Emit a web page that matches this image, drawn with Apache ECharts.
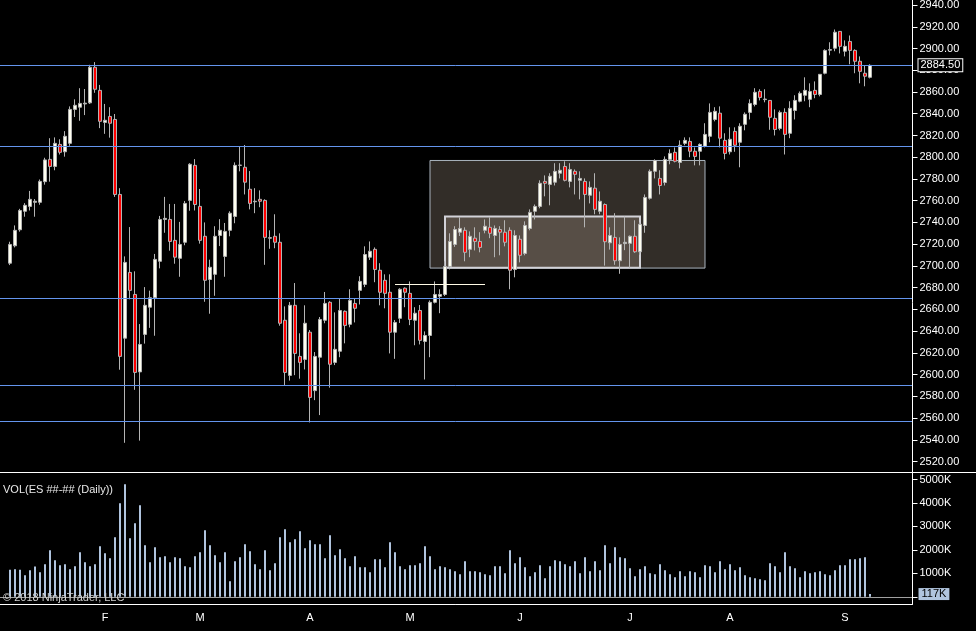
<!DOCTYPE html>
<html>
<head>
<meta charset="utf-8">
<script src="https://cdn.jsdelivr.net/npm/echarts@6/dist/echarts.min.js"></script>
<style>
html, body { margin: 0; background: #000; }
#chart { width: 976px; height: 631px; }
</style>
</head>
<body>
<div id="chart"></div>
<script>
// daily ES bars
const open = [
  2702.5, 2718.5, 2733.25, 2750.25, 2754.75, 2758.5, 2758.5, 2777.5, 2798, 2791.5,
  2811.75, 2805, 2812.75, 2844, 2846, 2849, 2850, 2882.75, 2861.5, 2832,
  2837.5, 2834.75, 2765.75, 2633.5, 2694, 2673.75, 2602.5, 2637, 2662, 2670.75,
  2704.25, 2742.75, 2742.75, 2723.5, 2707, 2721.75, 2760.25, 2792.5, 2754.75, 2727.25,
  2687.5, 2692.25, 2728, 2708.75, 2732.75, 2745.5, 2792.5, 2790.75, 2770.5, 2759,
  2761.25, 2760.25, 2725.5, 2727.25, 2721.75, 2650, 2599.25, 2663.75, 2616.75, 2614,
  2639, 2585.25, 2616, 2650, 2666.5, 2611.25, 2621.5, 2658.25, 2646.25, 2665.5,
  2677.5, 2683, 2708, 2715.25, 2696, 2686.75, 2675.75, 2639, 2651.75, 2679.5,
  2674.75, 2650, 2659, 2630.5, 2636, 2666.5, 2672, 2673.75, 2699.5, 2719.75,
  2731, 2732.75, 2715.25, 2725.5, 2722.5, 2732.75, 2735.5, 2728, 2733.5, 2731,
  2732.75, 2696.75, 2724.5, 2711.5, 2734.5, 2750.25, 2754.75, 2777.75, 2775, 2777,
  2785.25, 2791.5, 2777.75, 2787, 2778.75, 2777.75, 2765, 2771.5, 2750.25, 2756.5,
  2721.25, 2726.25, 2704.75, 2720.5, 2720.75, 2727.25, 2713, 2737.25, 2762.25, 2787,
  2780.5, 2776.75, 2798, 2804.5, 2795.25, 2812.75, 2814.5, 2805.5, 2805.5, 2810,
  2819.25, 2834.75, 2840.5, 2815.5, 2805, 2823.75, 2813.75, 2830.25, 2841.25, 2848.5,
  2860.5, 2853, 2852.25, 2835.75, 2826.5, 2841.25, 2822, 2843, 2851.5, 2857,
  2853.25, 2861.5, 2857.75, 2877.25, 2898.5, 2900.25, 2915.75, 2897.5, 2906.5, 2898.25,
  2888.25, 2877.25, 2873.5
];
const high = [
  2722.25, 2737.25, 2752.5, 2757.75, 2769, 2761.5, 2779.5, 2799.5, 2817.5, 2818.25,
  2816.5, 2824, 2846.75, 2853.25, 2863.5, 2862.75, 2885, 2887.5, 2866.5, 2849,
  2846, 2839.75, 2771.5, 2708.75, 2735.75, 2695, 2646.5, 2680.5, 2677.25, 2711,
  2746, 2763.5, 2757, 2757, 2740.5, 2759.75, 2794.5, 2798.25, 2770.75, 2740,
  2705.75, 2736.5, 2743, 2739.5, 2750.25, 2795.25, 2810, 2811.25, 2787.25, 2771.5,
  2769.5, 2761.25, 2732.75, 2747.5, 2730, 2662.75, 2666.75, 2684.25, 2638, 2663.75,
  2641, 2620.75, 2653, 2676, 2667.5, 2657.25, 2670.25, 2659, 2678.5, 2670.25,
  2690.5, 2718, 2722.5, 2717, 2702.5, 2692.25, 2692.25, 2650.25, 2679.5, 2680.25,
  2685.75, 2662, 2664, 2639.75, 2668.25, 2685.75, 2678.5, 2704.25, 2730, 2736.5,
  2744.75, 2735.5, 2731.75, 2735.5, 2731, 2742.75, 2744.75, 2737.25, 2736.5, 2742,
  2735.5, 2732.75, 2728, 2741, 2752, 2756.5, 2778.75, 2783.25, 2785.25, 2794.5,
  2794.5, 2796.25, 2794.5, 2788.75, 2787, 2780.5, 2777.75, 2785.25, 2768.5, 2757.5,
  2735.5, 2748.5, 2726.25, 2745.5, 2728, 2742, 2740, 2765.75, 2788.75, 2798,
  2788, 2800.75, 2807.25, 2809, 2815.5, 2818.25, 2818.25, 2809, 2812.75, 2831.25,
  2849.5, 2846, 2846.75, 2822, 2827.5, 2827.5, 2831.25, 2841.25, 2853.25, 2863.5,
  2862.5, 2862.5, 2852.5, 2844, 2843, 2845, 2851.5, 2857, 2860.5, 2873.5,
  2868, 2869.75, 2876.5, 2899.25, 2905.75, 2917.5, 2916, 2907.5, 2912, 2899.25,
  2892.75, 2884.5, 2885.5
];
const low = [
  2700.75, 2717, 2731.5, 2745.25, 2751, 2745.25, 2756.25, 2774.75, 2777.5, 2788,
  2802.5, 2800.5, 2810.5, 2837, 2833.5, 2838.75, 2849, 2859.25, 2826.75, 2821.5,
  2818, 2763.5, 2604.5, 2537.25, 2669.25, 2586, 2539.25, 2628.5, 2643, 2635.75,
  2697.75, 2730.5, 2714, 2702, 2690, 2719, 2750.75, 2751, 2720.5, 2667,
  2656, 2672.5, 2718.25, 2690, 2727.25, 2739.25, 2787, 2765.75, 2752, 2748.5,
  2754, 2701, 2715.75, 2716.25, 2645, 2590, 2594.5, 2599.5, 2596.25, 2604.75,
  2556, 2576.5, 2562.75, 2647.25, 2588, 2608.75, 2616, 2628.75, 2643.5, 2648,
  2664.5, 2680.5, 2705.5, 2685, 2663.75, 2661, 2619.5, 2614.5, 2647.5, 2662,
  2645.5, 2627, 2627.75, 2595.5, 2616, 2665.5, 2656.5, 2672.25, 2696.75, 2717.5,
  2727.5, 2704.25, 2708, 2714.25, 2712.5, 2730, 2725.5, 2708, 2709.75, 2718,
  2678.5, 2689.5, 2703.25, 2709.75, 2732.75, 2742.75, 2753, 2764, 2755.75, 2774,
  2780.5, 2777.75, 2772.25, 2765.75, 2761.25, 2735.5, 2757.5, 2747.5, 2747.5, 2700.25,
  2715, 2701, 2692.75, 2714.5, 2698.25, 2712, 2710.25, 2730.5, 2761, 2780.5,
  2765.75, 2774, 2793.5, 2795.25, 2789.75, 2811, 2800, 2792.5, 2792.5, 2809,
  2813.75, 2833, 2809, 2798, 2802.5, 2805, 2790.75, 2824.75, 2834.75, 2846.75,
  2852.25, 2850.5, 2825.25, 2820, 2824.75, 2802.5, 2817.5, 2834.75, 2850.5, 2851.5,
  2846, 2854.25, 2856, 2876.25, 2893.75, 2897.5, 2895.5, 2892.75, 2885.5, 2877.25,
  2868, 2865.25, 2872.5
];
const close = [
  2719.75, 2732.75, 2751, 2755.75, 2761.25, 2759.5, 2777.75, 2797.5, 2791.5, 2812.75,
  2804.5, 2819.25, 2844, 2847.75, 2849.5, 2849.75, 2882.75, 2862.5, 2833, 2834,
  2831.25, 2765.75, 2616.75, 2703.25, 2677.5, 2602, 2627.75, 2663.75, 2670.75, 2706,
  2742.75, 2743.75, 2722.5, 2708, 2719.75, 2757.5, 2793.5, 2756.5, 2723.5, 2686.75,
  2698.75, 2727.25, 2732.75, 2731.75, 2748.5, 2792.5, 2792.75, 2777, 2757.5, 2759.5,
  2759.5, 2726.25, 2726, 2721.75, 2647.25, 2602, 2663.75, 2619.5, 2611.25, 2647.25,
  2579, 2616.75, 2650.75, 2665.5, 2609.5, 2623.25, 2659, 2645.25, 2668.25, 2661,
  2685.75, 2710.5, 2713.5, 2696.75, 2675.75, 2674.75, 2639, 2648, 2678.5, 2675.75,
  2650.75, 2656.5, 2631.5, 2636, 2666.5, 2673.75, 2673.75, 2699.5, 2722.5, 2733.5,
  2734.5, 2712.5, 2727.25, 2722.5, 2717, 2736.5, 2730, 2734.5, 2731, 2721.75,
  2696, 2728, 2709.75, 2737.25, 2749.25, 2754.75, 2776, 2776, 2782.5, 2787,
  2788, 2778.75, 2788.75, 2784.25, 2780.5, 2765.75, 2772.25, 2752, 2759.5, 2722.25,
  2728, 2704.75, 2719.75, 2721.75, 2727.25, 2713, 2738.25, 2763, 2787, 2797,
  2774, 2798, 2803.5, 2796.25, 2811, 2815.5, 2805.5, 2800.75, 2811.75, 2821,
  2841.25, 2842.25, 2817.5, 2803.5, 2816.5, 2811, 2828.5, 2839.5, 2849.5, 2859.75,
  2855, 2853.5, 2836.75, 2825.5, 2841.25, 2821, 2845, 2852.25, 2858.75, 2861.5,
  2860.5, 2857.75, 2876.25, 2898.25, 2899, 2915, 2902, 2902, 2898.25, 2888.25,
  2879, 2874.5, 2884.5
];
// volume in thousands of contracts
const volume = [
  1150, 1179, 1150, 923, 1136, 1292, 1051, 1392, 1988, 1562,
  1349, 1392, 1179, 1306, 1903, 1477, 1306, 1392, 2158, 1860,
  1647, 2542, 3990, 4800, 2499, 3138, 3905, 2201, 1477, 2116,
  1690, 1732, 1477, 1690, 1647, 1306, 1264, 1732, 1903, 2840,
  2201, 1775, 1477, 1903, 667, 1519, 1690, 2244, 1945, 1392,
  1179, 1988, 1136, 1434, 2542, 2883, 2329, 2457, 2797, 2073,
  2414, 2244, 2244, 1647, 2627, 1775, 2031, 1647, 1306, 1732,
  1264, 1264, 1051, 1605, 1605, 1264, 2329, 1903, 1306, 1179,
  1349, 1349, 1434, 2158, 1732, 1179, 1306, 1264, 1179, 1093,
  966, 1519, 1093, 1093, 1051, 966, 923, 1306, 1306, 1008,
  1988, 1434, 1690, 1264, 880, 1051, 1349, 795, 1306, 1562,
  1519, 1392, 1306, 1519, 1008, 1690, 1093, 1519, 1136, 2201,
  1434, 2116, 1690, 1647, 1221, 880, 1179, 1306, 1008, 966,
  1392, 1136, 966, 838, 1093, 880, 1093, 1051, 838, 1349,
  1306, 1051, 1519, 1179, 1392, 1136, 1264, 923, 838, 795,
  753, 710, 1434, 1306, 1051, 1903, 1306, 1221, 838, 1093,
  1008, 1051, 1093, 966, 923, 1136, 1349, 1349, 1605, 1605,
  1647, 1690, 117
];

const monthStarts = [19, 38, 60, 80, 102, 124, 144, 167];
const monthLabels = ['F', 'M', 'A', 'M', 'J', 'J', 'A', 'S'];

const levels = [2810, 2670.25, 2590, 2557];
const lastPrice = 2884.5;
const lastVolume = 117;

// drawn rectangles: bar index range and price range
const boxFrom = [84, 87];
const boxTo = [139, 126];
const boxTop = [2797, 2745.5];
const boxBottom = [2698, 2698.25];
const rayFrom = 77, rayTo = 95, rayPrice = 2683;

const PAD_L = 2, PAD_R = 8, BAR = 5;
const FONT = 'Liberation Sans';
const barName = i => 'b' + i;

const cats = [];
for (let i = 0; i < PAD_L; i++) cats.push('l' + i);
close.forEach((_, i) => cats.push(barName(i)));
for (let i = 0; i < PAD_R; i++) cats.push('r' + i);

const monthAt = {};
monthStarts.forEach((b, j) => { monthAt[barName(b)] = monthLabels[j]; });
const isMonth = (idx, val) => val in monthAt;

const gridLeft = -2.5;
const gridWidth = cats.length * BAR;
const axisX = gridLeft + gridWidth;

const candles = close.map((c, i) => [barName(i), open[i], c, low[i], high[i]]);
const bars = volume.map((v, i) => [barName(i), v]);

const white = '#ffffff';
const axisLabel = { color: white, fontSize: 11, fontFamily: FONT };
const gridBase = { left: gridLeft, width: gridWidth, containLabel: false, outerBoundsMode: 'none' };

const chart = echarts.init(document.getElementById('chart'), null, { renderer: 'canvas' });
chart.setOption({
  backgroundColor: '#000',
  animation: false,
  grid: [
    { ...gridBase, top: -16.7, height: 478.26 },
    { ...gridBase, top: 472.5, height: 124.3 }
  ],
  xAxis: [
    { type: 'category', gridIndex: 0, data: cats, show: false },
    {
      type: 'category', gridIndex: 1, data: cats, offset: 7.5,
      axisLine: { onZero: false, lineStyle: { color: white } },
      axisTick: { alignWithLabel: true, length: 6, interval: isMonth, lineStyle: { color: white } },
      axisLabel: { ...axisLabel, margin: 8, interval: isMonth, formatter: v => monthAt[v] || '' }
    }
  ],
  yAxis: [
    {
      type: 'value', gridIndex: 0, position: 'right', min: 2520, max: 2960, interval: 20,
      axisLine: { show: false }, splitLine: { show: false },
      axisTick: { show: true, length: 5, lineStyle: { color: white } },
      axisLabel: { ...axisLabel, margin: 7, formatter: v => v.toFixed(2) }
    },
    {
      type: 'value', gridIndex: 1, position: 'right', min: 0, max: 5300, interval: 1000,
      axisLine: { show: false }, splitLine: { show: false },
      axisTick: { show: true, length: 5, lineStyle: { color: white } },
      axisLabel: { ...axisLabel, margin: 7, formatter: v => (v > 0 && v % 1000 === 0 ? v + 'K' : '') }
    }
  ],
  series: [
    {
      type: 'candlestick', xAxisIndex: 0, yAxisIndex: 0,
      data: candles, encode: { x: 0, y: [1, 2, 3, 4] },
      barWidth: 4,
      itemStyle: { color: '#fffff0', color0: '#ff0000', borderColor: '#b4b4b4', borderColor0: '#b4b4b4', borderWidth: 1 },
      markArea: {
        silent: true,
        itemStyle: { color: 'rgba(200,180,160,0.25)', borderColor: '#aab4be', borderWidth: 1 },
        data: boxFrom.map((f, j) => [
          { coord: [barName(f), boxTop[j]], itemStyle: j ? { borderColor: '#d2d2d8', borderWidth: 2 } : {} },
          { coord: [barName(boxTo[j]), boxBottom[j]] }
        ])
      },
      markLine: {
        silent: true, symbol: ['none', 'none'],
        lineStyle: { color: '#6495ed', width: 1, type: 'solid' },
        label: { show: false },
        data: [
          ...levels.map(v => ({ yAxis: v })),
          {
            yAxis: lastPrice,
            label: {
              show: true, position: 'end', distance: 6, formatter: lastPrice.toFixed(2),
              color: white, fontSize: 11, fontFamily: FONT,
              backgroundColor: '#000', borderColor: white, borderWidth: 1, padding: [1, 2, 0, 2]
            }
          },
          [
            { coord: [barName(rayFrom), rayPrice], lineStyle: { color: '#fffbe6', width: 1 } },
            { coord: [barName(rayTo), rayPrice] }
          ]
        ]
      }
    },
    {
      type: 'bar', xAxisIndex: 1, yAxisIndex: 1,
      data: bars, encode: { x: 0, y: 1 },
      barWidth: 2,
      itemStyle: { color: '#b0c4de' },
      markLine: {
        silent: true, symbol: ['none', 'none'],
        label: { show: false },
        data: [
          { yAxis: 0, lineStyle: { color: '#a0a0a0', width: 1, type: 'solid' } },
          {
            yAxis: lastVolume, lineStyle: { color: 'rgba(0,0,0,0)', width: 1 },
            label: {
              show: true, position: 'end', distance: 6, formatter: lastVolume + 'K',
              color: '#000', fontSize: 11, fontFamily: FONT,
              backgroundColor: '#b0c4de', padding: [1, 3, 0, 3]
            }
          }
        ]
      }
    }
  ],
  graphic: [
    { type: 'line', silent: true, z: 50, shape: { x1: axisX, y1: 0, x2: axisX, y2: 604.5 }, style: { stroke: white, lineWidth: 1 } },
    { type: 'line', silent: true, z: 50, shape: { x1: 0, y1: 472.5, x2: 976, y2: 472.5 }, style: { stroke: white, lineWidth: 1 } },
    { type: 'text', silent: true, z: 50, left: 3, top: 484, style: { text: 'VOL(ES ##-## (Daily))', fill: '#e8e8e8', font: `11px "${FONT}"` } },
    { type: 'text', silent: true, z: 50, left: 3, top: 592, style: { text: '© 2018 NinjaTrader, LLC', fill: '#d0d0d0', font: `11px "${FONT}"` } }
  ]
});
</script>
</body>
</html>
